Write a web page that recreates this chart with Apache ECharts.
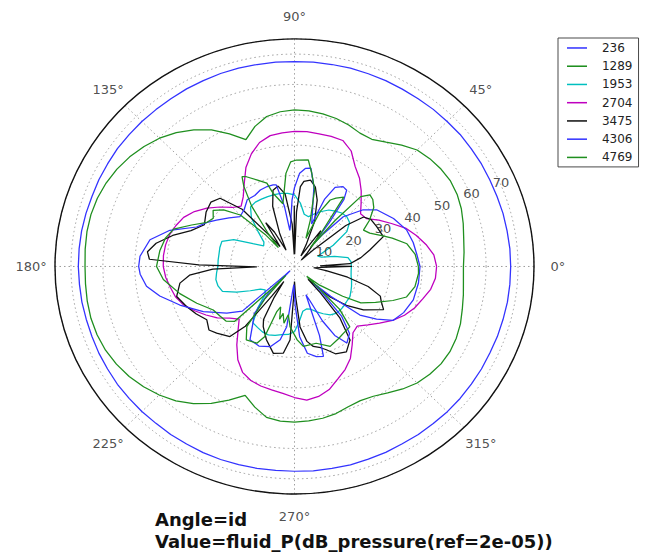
<!DOCTYPE html>
<html><head><meta charset="utf-8">
<script src="https://cdn.jsdelivr.net/npm/echarts@6/dist/echarts.min.js"></script>
<style>
html,body{margin:0;padding:0;background:#fff;overflow:hidden;}
#wrap{width:655px;height:556px;overflow:hidden;position:relative;}
#chart{width:655px;height:585px;transform:scaleY(0.95);transform-origin:0 0;}
</style></head><body><div id="wrap"><div id="chart"></div></div>
<script>
// ---------- data ----------
const seriesNames = ['236','1289','1953','2704','3475','4306','4769'];
const seriesColors = ['#3333ff','#1f8f1f','#00bfbf','#bf00bf','#111111','#3333ff','#1f8f1f'];
const angleTicks = [0,45,90,135,180,225,270,315];
const angleTickLabels = ['0°','45°','90°','135°','180°','225°','270°','315°'];
const radiusTicks = [10,20,30,40,50,60,70];
const radiusTickLabels = ['10','20','30','40','50','60','70'];
const radiusLabelAngle = 22.5;

// common 5-degree sampling for the smooth curves
const theta = [0,5,10,15,20,25,30,35,40,45,50,55,
  60,65,70,75,80,85,90,95,100,105,110,115,
  120,125,130,135,140,145,150,155,160,165,170,175,
  180,185,190,195,200,205,210,215,220,225,230,235,
  240,245,250,255,260,265,270,275,280,285,290,295,
  300,305,310,315,320,325,330,335,340,345,350,355];

const v236 = [67.7,67.7,67.6,67.6,67.5,67.5,67.6,67.6,67.7,67.6,67.6,67.5,
  67.5,67.6,67.6,67.7,67.6,67.6,67.5,67.6,67.6,67.7,67.7,67.6,
  67.6,67.5,67.5,67.6,67.6,67.7,67.6,67.6,67.5,67.6,67.7,67.7,
  67.7,67.6,67.6,67.5,67.5,67.6,67.6,67.7,67.6,67.6,67.5,67.6,
  67.6,67.7,67.7,67.6,67.6,67.5,67.5,67.6,67.6,67.7,67.6,67.6,
  67.5,67.6,67.6,67.7,67.7,67.6,67.6,67.5,67.6,67.6,67.7,67.7];

const v1289 = [52.9,53.3,53.8,54.7,55.6,56.2,56.4,56.0,55.3,54.3,52.2,50.0,
  48.4,48.5,49.6,50.5,51.1,51.5,51.6,51.2,50.2,47.8,44.5,48.2,
  52.0,55.0,57.6,59.8,61.5,63.0,64.2,65.1,65.7,66.0,66.0,65.8,
  65.6,65.7,65.9,66.0,65.8,65.3,64.4,63.2,61.7,59.9,57.8,55.2,
  52.1,48.6,45.2,48.0,50.5,51.2,51.3,51.1,50.8,50.2,49.2,48.8,
  49.4,50.9,52.7,54.3,55.3,56.0,56.2,55.9,55.3,54.4,53.7,53.1];

const v1953 = [17.8,17.8,17.0,13.0,9.0,8.0,14.0,20.0,22.5,23.2,23.0,22.3,
  21.5,20.0,18.5,17.0,17.5,21.0,23.6,24.2,24.5,24.5,24.5,24.5,
  24.5,24.0,21.0,16.0,12.5,11.8,15.0,21.0,24.2,24.2,24.0,24.0,
  24.0,24.5,25.0,24.8,24.0,20.0,16.0,13.0,12.0,13.0,18.0,22.7,
  23.2,23.8,24.0,23.5,22.8,22.5,21.5,18.0,15.0,14.5,15.0,16.5,
  18.0,19.5,20.2,20.3,20.2,20.0,20.0,19.5,19.0,18.5,18.0,17.8];

const v2704 = [44.5,43.8,41.8,39.5,37.0,33.5,30.5,27.5,27.0,29.5,32.5,35.5,
  38.0,42.0,44.2,44.4,44.4,44.6,44.5,44.2,43.8,42.3,39.5,36.0,
  31.5,28.0,26.0,27.5,30.5,33.5,36.2,38.3,39.5,40.5,41.0,41.2,
  41.1,40.5,39.5,38.6,37.0,34.5,32.0,29.5,26.5,24.5,27.5,31.5,
  35.5,38.5,40.0,40.8,41.3,42.0,43.2,44.2,43.5,42.0,39.5,37.5,
  35.0,31.5,28.5,27.8,30.0,32.5,35.5,38.0,40.0,41.5,43.3,44.3];

// irregular sampling for the spiky curves
const theta3475 = [0,1.5,3,8,13,19.5,27,33,37,40,43,45,48,52,55,57,60,63,67,72,76,80,84,86,88,89.3,90.2,91.2,93,97,
  101,105,109,113,116,119,122,124.5,127,131,136,141,147,154,160,165,170,174,177,179,180.6,182,185,188.7,195,201.3,207,212.6,218,222,
  228.8,232,234,236,238,241,243.7,250,257,263,266.7,268.5,270,272,275,279,282.6,287,290,294,300,305.7,310,313,315.5,318,322,326.5,333,337,
  340,344,348,352,356];
const v3475 = [18,8,17.4,21,24.2,29.5,28.9,28.5,27.1,21,8,3,6,11,14.4,8,4,8,16,23,27,28.9,28.2,26.4,18,4,20,4,14,24,
  27,26,21,12,6,13,17,8,12,25,32.4,33.7,33,31.4,34.5,39.5,44,46.3,45.5,30,11.8,25.6,33,36.3,38.2,36.3,34.5,32.6,34,32.8,
  30.7,25,12,6,12,20,22.1,25.7,29.4,28.8,24.3,10,5,10,20,25,27,28,29.2,31.5,32.5,29.8,22,12,6,15,21,25.9,31.3,29.5,
  28.6,24,17,10,6];

const theta4306 = [0,6,12,19,27,36,41,47,50,51.5,53,55,57,60,64,67,69,72,77,81,84,87,90,92,95,97,99,102,104,108,
  113,118,124,130,136,142,148,152,157,163,169,176,180,183,188,193,199.5,207.5,216,222,224,225.5,227,231,235,240,247,254,259.5,263,
  266,268,271,274,278,283,287,289,291,293,296,299,303,308,312,315,317,319,322,326,330,336,343.5,352];
const v4306 = [39.3,38.5,38,37.1,34.8,31.8,28.5,22.4,14,10,18,27,30,30.4,29,24,15,18,27,32.8,32.5,30.8,26,22,14,12,20,27.5,27.7,27.7,
  27.4,26.5,26.5,24.5,23.7,26,28.8,31,33.3,40.8,46.1,48.5,48.8,48.4,46.8,43.3,38.1,32.2,26.2,22,4,2,12,20,22.7,27.9,28.5,27.5,24.6,20,
  8,6,13,23.2,28.9,30.5,31,24,10,12,20,26,30.1,28,22,12,8,15,26,31,35.6,37.4,38.8,39.2];

const theta4769 = [0,6,12,17,20,25,29,33,38,42,45,48,50,51.5,53,56,60,63,66,69,72,76,80,83,89,92,95,98,100,103,
  105.5,107.5,112.5,117,119,121,124,127,129,131,135,140,144,148,152,157,162,167,173,180,186,194,201.6,209.4,215,220,224,226,227.5,229,
  233,238,245,248,249.5,252,255,257,260,263,266,272,276,285,293,300,305,311,315,318,320,322,327,330,335,340,344,350,356.6];
const v4769 = [38.8,38,36,32,29.5,26,24.7,28,31.5,33,33.4,31,20,8,14,27.6,26,24.6,20,10,16,26,31.2,35.4,35.1,34.5,30.8,24,21,23,
  25,28.8,30.9,33.2,33.9,30.8,24,14,8,14,24,29,31.5,30,31,35,39.8,41.5,42.5,43.2,41.3,37,32.9,29.2,28.5,28,26,10,4,14,
  24.8,28.5,27.9,25,16,14,18,15.8,19,16,19.9,24.2,26.5,26.2,28.6,27.5,26.8,26.4,20,8,5,10,18,24,28,32.8,36.5,38.3,38.9];

const seriesTheta = [theta,theta,theta,theta,theta3475,theta4306,theta4769];
const seriesValues = [v236,v1289,v1953,v2704,v3475,v4306,v4769];

// ---------- chart ----------
const cx = 294.5, cy = 280.5, R = 239.5;
const chart = echarts.init(document.getElementById('chart'), null, {renderer:'svg', width:655, height:585});

const lineSeries = seriesNames.map(function(n, i){
  const vals = seriesValues[i], th = seriesTheta[i];
  const data = th.map(function(t, j){ return [vals[j], t]; });
  data.push([vals[0], 360]);
  return {
    name: n, type:'line', coordinateSystem:'polar', polarIndex:0,
    data: data, showSymbol:false, symbol:'none', smooth:false, silent:true,
    lineStyle:{color:seriesColors[i], width:1.3}, itemStyle:{color:seriesColors[i]},
    z: 3 + i
  };
});

const option = {
  animation:false,
  backgroundColor:'#fff',
  title:{
    text:'Angle=id\nValue=fluid_P(dB_pressure(ref=2e-05))',
    left:155, top:536, padding:0,
    textStyle:{fontFamily:'DejaVu Sans', fontWeight:'bold', fontSize:18, lineHeight:23.2, color:'#111'}
  },
  legend:{
    data: seriesNames, orient:'vertical', left:558, top:40,
    padding:[3.5,6,3,9], itemGap:5.2, itemWidth:20, itemHeight:1.6, icon:'rect',
    borderColor:'#444', borderWidth:1, borderRadius:0,
    textStyle:{fontFamily:'DejaVu Sans', fontSize:12, color:'#222', lineHeight:14, padding:[0,0,0,10]},
    selectedMode:false
  },
  polar:[
    {center:[cx,cy], radius:R},
    {center:[cx,cy], radius:R*1.1}
  ],
  angleAxis:[
    {polarIndex:0, type:'value', min:0, max:360, interval:45, startAngle:0, clockwise:false,
     axisLine:{show:true, lineStyle:{color:'#111', width:1.4}},
     axisTick:{show:false}, axisLabel:{show:false},
     splitLine:{show:true, lineStyle:{color:'#999', width:1, type:[1.5,3]}}},
    {polarIndex:1, type:'value', min:0, max:360, startAngle:0, clockwise:false, show:false}
  ],
  radiusAxis:[
    {polarIndex:0, type:'value', min:0, max:75, interval:10,
     axisLine:{show:false}, axisTick:{show:false}, axisLabel:{show:false},
     splitLine:{show:true, lineStyle:{color:'#999', width:1, type:[1.5,3]}}},
    {polarIndex:1, type:'value', min:0, max:1, show:false}
  ],
  series: lineSeries.concat([
    {type:'scatter', coordinateSystem:'polar', polarIndex:0, silent:true, symbolSize:0, z:20,
     data: radiusTicks.map(function(r,i){ return {value:[r, radiusLabelAngle], name:radiusTickLabels[i]}; }),
     label:{show:true, position:'inside', offset:[0,-3], formatter:function(p){return p.name;}, fontFamily:'DejaVu Sans', fontSize:13, color:'#222'}},
    {type:'scatter', coordinateSystem:'polar', polarIndex:1, silent:true, symbolSize:0, z:20,
     data: angleTicks.map(function(a,i){ return {value:[1, a], name:angleTickLabels[i]}; }),
     label:{show:true, position:'inside', formatter:function(p){return p.name;}, fontFamily:'DejaVu Sans', fontSize:13, color:'#222'}}
  ])
};
chart.setOption(option);
</script></body></html>
